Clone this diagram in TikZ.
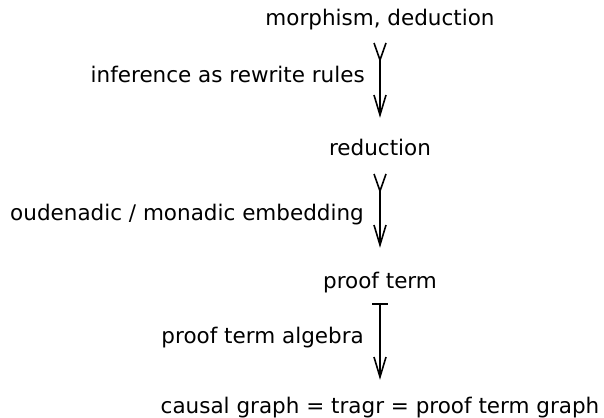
\documentclass[tikz,border=0pt]{standalone}
\usepackage{fontspec}
\setmainfont{DejaVu Sans}
\usetikzlibrary{arrows.meta}
\begin{document}
\begin{tikzpicture}[x=1pt,y=-1pt,
  every node/.style={font=\fontsize{21.5}{26}\selectfont, inner sep=0pt, text height=16pt, text depth=5pt},
  obj/.style={anchor=base},
  lbl/.style={anchor=base east},
  mono/.style={line width=1.6pt, {Straight Barb[reversed,length=17pt,width=12pt]}-{Straight Barb[length=20pt,width=12pt]}},
  mapsto/.style={line width=1.6pt, {Bar[width=16pt]}-{Straight Barb[length=20pt,width=12pt]}}]
\useasboundingbox (0,0) rectangle (604,417);
\node[obj] (top) at (380,26) {morphism, deduction};
\node[obj] (red) at (380,155) {reduction};
\node[obj] (pt) at (380,288) {proof term};
\node[obj] (cg) at (380,413) {causal graph = tragr = proof term graph};
\node[lbl] (l1) at (365,83) {inference as rewrite rules};
\node[lbl] (l2) at (364,220) {oudenadic / monadic embedding};
\node[lbl] (l3) at (364,343) {proof term algebra};
\draw[mono, shorten <=11pt, shorten >=21pt] (top.south) -- (red.north);
\draw[mono, shorten <=13pt, shorten >=24pt] (red.south) -- (pt.north);
\draw[mapsto, shorten <=10pt, shorten >=17pt] (pt.south) -- (cg.north);
\end{tikzpicture}
\end{document}
